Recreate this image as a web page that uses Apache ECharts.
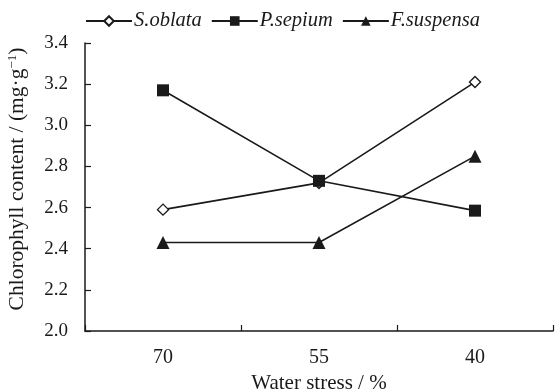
<!DOCTYPE html>
<html>
<head>
<meta charset="utf-8">
<script src="https://cdn.jsdelivr.net/npm/echarts@6/dist/echarts.min.js"></script>
<style>
  html, body { margin: 0; padding: 0; background: #fff; }
  #chart { width: 555px; height: 392px; }
</style>
</head>
<body>
<div id="chart"></div>
<script>
// Water stress levels (%) on the category axis
const categories = ['70', '55', '40'];

// Chlorophyll content (mg·g⁻¹) per species
const sOblata = [2.59, 2.72, 3.21];
const pSepium = [3.17, 2.73, 2.585];
const fSuspensa = [2.43, 2.43, 2.85];

// Y axis range and step
const yMin = 2.0;
const yMax = 3.4;
const yStep = 0.2;

const FONT = '"Liberation Serif", "DejaVu Serif", serif';
const INK = '#1a1a1a';

const chart = echarts.init(document.getElementById('chart'), null, { renderer: 'canvas' });

function lineSeries(name, data, symbol, size, filled) {
  return {
    name: name,
    type: 'line',
    data: data,
    symbol: symbol,
    symbolSize: size,
    showAllSymbol: true,
    lineStyle: { color: INK, width: 1.6 },
    itemStyle: {
      color: filled ? INK : '#fff',
      borderColor: INK,
      borderWidth: filled ? 0 : 1.4
    },
    emphasis: { disabled: true },
    animation: false
  };
}

chart.setOption({
  backgroundColor: '#fff',
  animation: false,
  legend: {
    top: 6,
    left: 80,
    itemGap: 9,
    itemWidth: 46,
    itemHeight: 12,
    textStyle: { fontFamily: FONT, fontSize: 20.5, fontStyle: 'italic', color: INK, padding: [0, 0, 0, -3] },
    data: ['S.oblata', 'P.sepium', 'F.suspensa']
  },
  grid: { left: 85, right: 2, top: 43, bottom: 61, containLabel: false, outerBoundsMode: 'none' },
  xAxis: {
    type: 'category',
    data: categories,
    boundaryGap: true,
    name: 'Water stress / %',
    nameLocation: 'middle',
    nameGap: 38,
    nameTextStyle: { fontFamily: FONT, fontSize: 21, color: INK },
    axisLine: { lineStyle: { color: INK, width: 1.5 } },
    axisTick: { show: true, inside: true, length: 6, lineStyle: { color: INK, width: 1.2 } },
    axisLabel: { fontFamily: FONT, fontSize: 20, color: INK, margin: 17 },
    splitLine: { show: false }
  },
  yAxis: {
    type: 'value',
    min: yMin,
    max: yMax,
    interval: yStep,
    name: '{n|Chlorophyll content / (mg·g}{s|−1}{n|)}',
    nameLocation: 'middle',
    nameGap: 56,
    nameTextStyle: {
      fontFamily: FONT,
      color: INK,
      padding: [0, 0, 0, 16],
      rich: {
        n: { fontFamily: FONT, fontSize: 21.5, color: INK },
        s: { fontFamily: FONT, fontSize: 13, color: INK, verticalAlign: 'top', padding: [0, 0, 10, 0] }
      }
    },
    axisLine: { show: true, lineStyle: { color: INK, width: 1.5 } },
    axisTick: { show: true, inside: true, length: 6, lineStyle: { color: INK, width: 1.2 } },
    axisLabel: {
      fontFamily: FONT, fontSize: 19, color: INK, margin: 17,
      formatter: v => v.toFixed(1)
    },
    splitLine: { show: false }
  },
  series: [
    lineSeries('S.oblata', sOblata, 'diamond', 11, false),
    lineSeries('P.sepium', pSepium, 'rect', 12, true),
    lineSeries('F.suspensa', fSuspensa, 'triangle', 13, true)
  ]
});
</script>
</body>
</html>
